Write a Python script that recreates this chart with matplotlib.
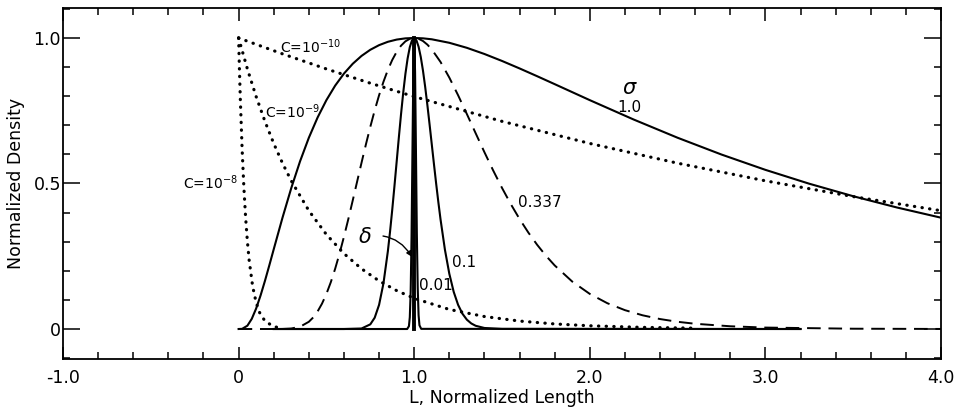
import matplotlib
matplotlib.use("Agg")
import matplotlib.pyplot as plt

plt.rcParams["font.family"] = ["DejaVu Sans"]
plt.rcParams["axes.unicode_minus"] = False

# Normalized log-normal size distributions (peak at L = 1) for several widths
L_s100 = [0.0, 0.02, 0.05, 0.075, 0.1, 0.125, 0.15, 0.175, 0.2, 0.25, 0.3, 0.35, 0.4, 0.45,
          0.5, 0.55, 0.6, 0.65, 0.7, 0.75, 0.8, 0.85, 0.9, 0.95, 1.0, 1.05, 1.1, 1.2, 1.3,
          1.4, 1.5, 1.6, 1.7, 1.8, 1.9, 2.0, 2.25, 2.5, 2.75, 3.0, 3.25, 3.5, 3.75, 4.0]
D_s100 = [0.0, 0.0005, 0.0113, 0.0349, 0.0706, 0.1151, 0.1653, 0.2189, 0.2739, 0.3825,
          0.4844, 0.5763, 0.6572, 0.7270, 0.7864, 0.8364, 0.8777, 0.9114, 0.9384, 0.9595,
          0.9754, 0.9869, 0.9945, 0.9987, 1.0, 0.9988, 0.9955, 0.9835, 0.9662, 0.9450,
          0.9211, 0.8954, 0.8687, 0.8414, 0.8139, 0.7864, 0.7198, 0.6572, 0.5995, 0.5469,
          0.4992, 0.4563, 0.4174, 0.3825]

L_s337 = [0.0, 0.2, 0.25, 0.3, 0.35, 0.4, 0.425, 0.45, 0.475, 0.5, 0.525, 0.55, 0.575, 0.6,
          0.625, 0.65, 0.675, 0.7, 0.725, 0.75, 0.775, 0.8, 0.825, 0.85, 0.875, 0.9, 0.925,
          0.95, 0.975, 1.0, 1.025, 1.05, 1.075, 1.1, 1.15, 1.2, 1.25, 1.3, 1.35, 1.4, 1.45,
          1.5, 1.55, 1.6, 1.65, 1.7, 1.75, 1.8, 1.9, 2.0, 2.1, 2.2, 2.3, 2.4, 2.5, 2.6, 2.8,
          3.0, 3.5, 4.0]
D_s337 = [0.0, 0.0, 0.0002, 0.0017, 0.0078, 0.0248, 0.0398, 0.0604, 0.0872, 0.1206, 0.1607,
          0.2073, 0.2597, 0.3171, 0.3781, 0.4418, 0.5066, 0.5712, 0.6343, 0.6946, 0.7512,
          0.8032, 0.8496, 0.8902, 0.9245, 0.9523, 0.9736, 0.9885, 0.9972, 1.0, 0.9973,
          0.9896, 0.9772, 0.9608, 0.9176, 0.8639, 0.8032, 0.7386, 0.6727, 0.6075, 0.5445,
          0.4849, 0.4293, 0.3781, 0.3315, 0.2895, 0.2519, 0.2185, 0.1630, 0.1206, 0.0886,
          0.0648, 0.0472, 0.0342, 0.0248, 0.0180, 0.0094, 0.0049, 0.0010, 0.0002]

L_s010 = [0.2, 0.6, 0.7, 0.75, 0.775, 0.8, 0.825, 0.85, 0.8625, 0.875, 0.8875, 0.9, 0.9125,
          0.925, 0.9375, 0.95, 0.9625, 0.975, 0.9875, 1.0, 1.0125, 1.025, 1.0375, 1.05,
          1.0625, 1.075, 1.0875, 1.1, 1.1125, 1.125, 1.1375, 1.15, 1.175, 1.2, 1.225, 1.25,
          1.275, 1.3, 1.325, 1.35, 1.4, 1.5, 3.2]
D_s010 = [0.0, 0.0, 0.0017, 0.0160, 0.0388, 0.0830, 0.1571, 0.2670, 0.3349, 0.4101, 0.4907,
          0.5740, 0.6576, 0.7379, 0.8120, 0.8767, 0.9296, 0.9685, 0.9921, 1.0, 0.9923,
          0.9700, 0.9345, 0.8878, 0.8322, 0.7699, 0.7034, 0.6350, 0.5666, 0.4998, 0.4361,
          0.3766, 0.2724, 0.1898, 0.1276, 0.0830, 0.0523, 0.0320, 0.0191, 0.0111, 0.0035,
          0.0003, 0.0]

L_s001 = [0.2, 0.96, 0.97, 0.975, 0.98, 0.985, 0.99, 0.995, 1.0, 1.005, 1.01, 1.015, 1.02,
          1.025, 1.03, 1.04, 3.2]
D_s001 = [0.0, 0.0, 0.0097, 0.0405, 0.1299, 0.3192, 0.6035, 0.8819, 1.0, 0.8830, 0.6096,
          0.3303, 0.1409, 0.0474, 0.0127, 0.0005, 0.0]

# Delta-function limit
L_delta = [1.0, 1.0]
D_delta = [0.0, 1.0]

# Exponential distributions for three values of C
L_c10 = [0.0, 0.25, 0.5, 0.75, 1.0, 1.5, 2.0, 2.5, 3.0, 3.5, 4.0]
D_c10 = [1.0, 0.9454, 0.8936, 0.8447, 0.7985, 0.7136, 0.6376, 0.5698, 0.5092, 0.4550, 0.4066]

L_c9 = [0.0, 0.05, 0.1, 0.15, 0.2, 0.25, 0.3, 0.4, 0.5, 0.6, 0.7, 0.8, 0.9, 1.0, 1.2, 1.4,
        1.6, 1.8, 2.0, 2.3, 2.6]
D_c9 = [1.0, 0.8936, 0.7985, 0.7136, 0.6376, 0.5698, 0.5092, 0.4066, 0.3247, 0.2592, 0.2070,
        0.1653, 0.1320, 0.1054, 0.0672, 0.0429, 0.0273, 0.0174, 0.0111, 0.0056, 0.0029]

L_c8 = [0.0, 0.005, 0.01, 0.02, 0.03, 0.04, 0.05, 0.06, 0.08, 0.1, 0.12, 0.15, 0.2, 0.25]
D_c8 = [1.0, 0.8869, 0.7866, 0.6188, 0.4868, 0.3829, 0.3012, 0.2369, 0.1466, 0.0907, 0.0561,
        0.0273, 0.0082, 0.0025]

x_ticks = [-1.0, 0.0, 1.0, 2.0, 3.0, 4.0]
x_tick_labels = ["-1.0", "0", "1.0", "2.0", "3.0", "4.0"]
y_ticks = [0.0, 0.5, 1.0]
y_tick_labels = ["0", "0.5", "1.0"]

fig = plt.figure(figsize=(9.56, 4.13), dpi=100)
ax = fig.add_axes([0.0659, 0.1308, 0.9184, 0.8498])

solid = dict(color="black", lw=1.5, solid_joinstyle="round")
dotted = dict(color="black", lw=2.3, linestyle=(0, (0.1, 2.3)), dash_capstyle="round")

ax.plot(L_s100, D_s100, **solid)
ax.plot(L_s337, D_s337, color="black", lw=1.4, linestyle=(0, (7, 4)))
ax.plot(L_s010, D_s010, **solid)
ax.plot(L_s001, D_s001, **solid)
ax.plot(L_delta, D_delta, color="black", lw=2.8)
ax.plot(L_c10, D_c10, **dotted)
ax.plot(L_c9, D_c9, **dotted)
ax.plot(L_c8, D_c8, **dotted)

ax.set_xlim(-1.0, 4.0)
ax.set_ylim(-0.103, 1.103)

ax.set_xticks(x_ticks)
ax.set_xticklabels(x_tick_labels)
ax.set_yticks(y_ticks)
ax.set_yticklabels(y_tick_labels)
ax.set_xticks([v / 5 for v in range(-5, 21)], minor=True)
ax.set_yticks([v / 10 for v in range(-1, 12)], minor=True)

ax.tick_params(which="both", direction="in", top=True, right=True, width=1.1,
               labelsize=12.5)
ax.tick_params(axis="x", which="major", length=9, pad=7)
ax.tick_params(axis="y", which="major", length=12, pad=1.5)
ax.tick_params(which="minor", length=5)
for sp in ax.spines.values():
    sp.set_linewidth(1.3)

ax.set_xlabel("L, Normalized Length", fontsize=12.5, labelpad=2)
ax.set_ylabel("Normalized Density", fontsize=12.5, labelpad=6)

# Curve labels
ax.text(2.229, 0.828, r"$\sigma$", fontsize=15, ha="center", va="center")
ax.text(2.223, 0.762, "1.0", fontsize=11, ha="center", va="center")
ax.text(1.591, 0.434, "0.337", fontsize=11, ha="left", va="center")
ax.text(1.215, 0.228, "0.1", fontsize=11, ha="left", va="center")
ax.text(1.027, 0.148, "0.01", fontsize=11, ha="left", va="center")
ax.text(0.236, 0.969, r"C=10$^{-10}$", fontsize=10, ha="left", va="center")
ax.text(0.150, 0.748, r"C=10$^{-9}$", fontsize=10, ha="left", va="center")
ax.text(-0.003, 0.503, r"C=10$^{-8}$", fontsize=10, ha="right", va="center")

ax.annotate(r"$\delta$", xy=(0.987, 0.248), xytext=(0.72, 0.317), fontsize=15,
            ha="center", va="center",
            arrowprops=dict(arrowstyle="-|>", color="black", lw=1.0,
                            connectionstyle="arc3,rad=-0.35", shrinkA=6, shrinkB=0,
                            mutation_scale=8))

fig.savefig("out.png", dpi=100)
